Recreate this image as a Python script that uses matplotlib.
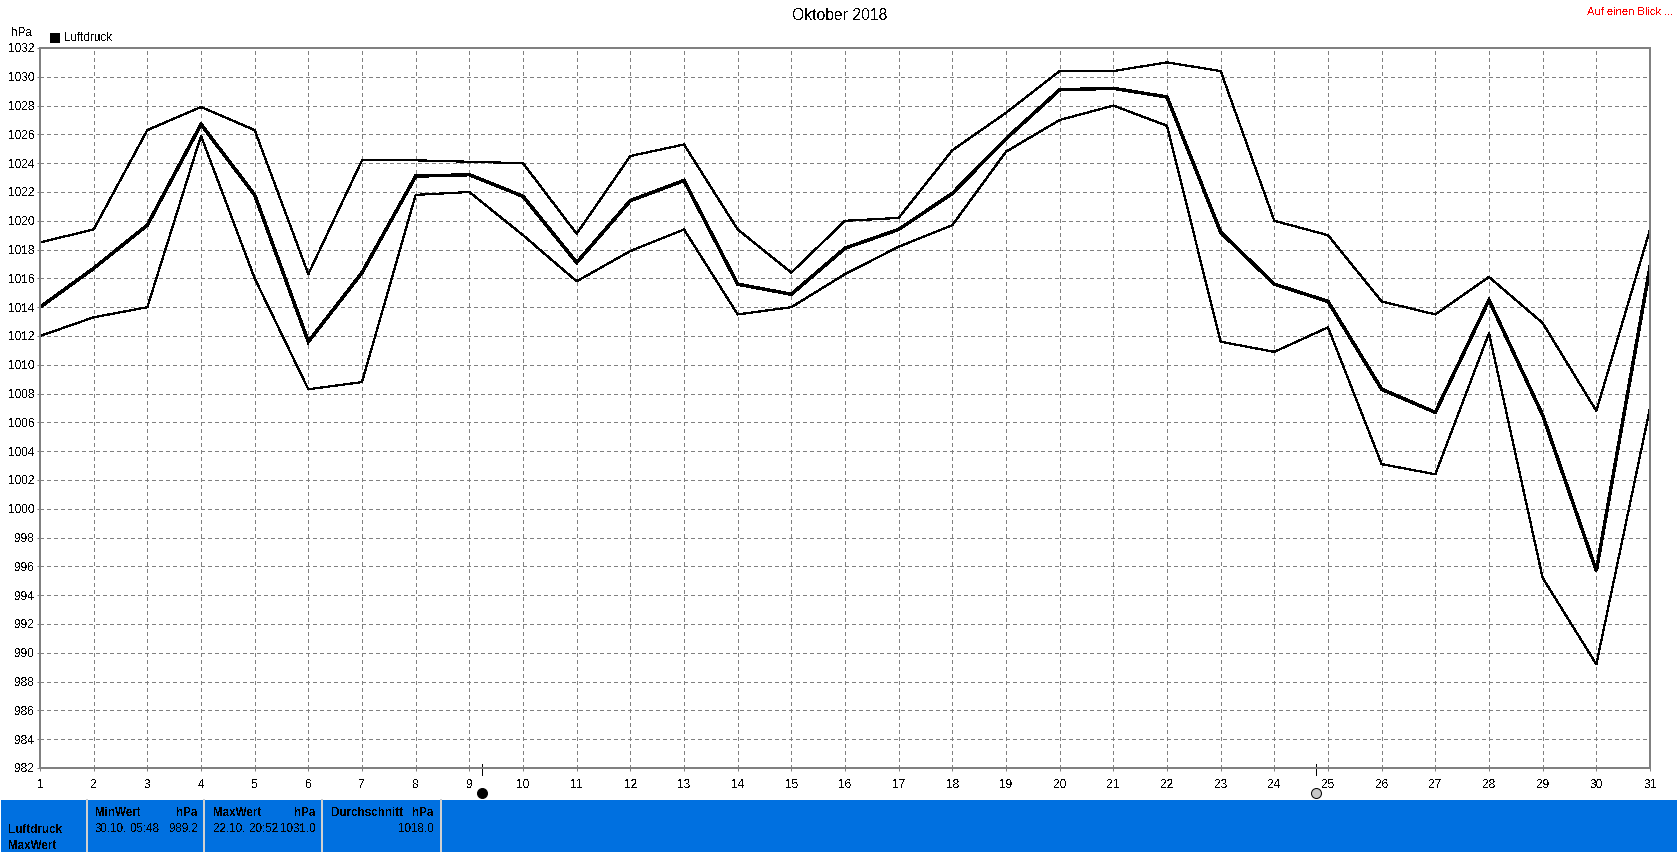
import numpy as np
from matplotlib import pyplot as plt
from matplotlib.patches import Rectangle

days = list(range(1, 32))
mean_vals = [1014.0, 1016.7, 1019.7, 1026.7, 1021.8, 1011.6, 1016.4, 1023.1, 1023.2, 1021.7, 1017.1,
             1021.4, 1022.8, 1015.6, 1014.9, 1018.1, 1019.4, 1021.9, 1025.7, 1029.1, 1029.2, 1028.6,
             1019.2, 1015.6, 1014.4, 1008.3, 1006.7, 1014.5, 1006.5, 995.7, 1016.8]
max_vals = [1018.5, 1019.4, 1026.3, 1027.9, 1026.3, 1016.3, 1024.2, 1024.2, 1024.1, 1024.0, 1019.1,
            1024.5, 1025.3, 1019.4, 1016.4, 1020.0, 1020.2, 1024.9, 1027.5, 1030.4, 1030.4, 1031.0,
            1030.4, 1020.0, 1019.0, 1014.4, 1013.5, 1016.1, 1012.9, 1006.8, 1019.4]
min_vals = [1012.0, 1013.3, 1014.0, 1025.9, 1016.0, 1008.3, 1008.8, 1021.8, 1022.0, 1019.0, 1015.8,
            1017.9, 1019.4, 1013.5, 1014.0, 1016.3, 1018.2, 1019.7, 1024.8, 1027.0, 1028.0, 1026.6,
            1011.6, 1010.9, 1012.6, 1003.1, 1002.4, 1012.2, 995.2, 989.2, 1007.0]
y_ticks = list(range(982, 1033, 2))
new_moon = 9.23
full_moon = 24.78

W, H = 1677, 852
GREY = '#808080'
BLUE = '#0070E0'
px = 72 / 100.

plt.rcParams['font.family'] = ['Liberation Sans', 'DejaVu Sans']
plt.rcParams['font.size'] = 8.4
plt.rcParams['text.antialiased'] = False

fig = plt.figure(figsize=(W / 100., H / 100.), dpi=100, facecolor='white')

# Plot area, placed by pixels
x0, x1, y_top, y_bot = 40, 1650, 48, 768
ax = fig.add_axes([x0 / W, 1 - y_bot / H, (x1 - x0) / W, (y_bot - y_top) / H])
ax.set_xlim(1, 31)
ax.set_ylim(982, 1032)
ax.set_xticks(days)
ax.set_yticks(y_ticks)
ax.grid(True, color=GREY, linewidth=1 * px, linestyle=(0, (4, 4)), antialiased=False)
ax.set_axisbelow(True)
ax.tick_params(length=3 * px, width=1 * px, color=GREY, labelsize=8.6)
ax.tick_params(axis='x', pad=6)
ax.tick_params(axis='y', pad=2)
for spine in ax.spines.values():
    spine.set_color(GREY)
    spine.set_linewidth(2 * px)

for vals, lw in [(max_vals, 1.2), (min_vals, 1.2), (mean_vals, 2.4)]:
    ax.plot(days, vals, color='black', linewidth=lw * px, solid_joinstyle='miter', antialiased=False)

# Moon phases under the axis
trans = ax.get_xaxis_transform()
for xm, fc in [(new_moon, 'black'), (full_moon, '#c8c8c8')]:
    ax.plot([xm, xm], [-7 / 720., 4 / 720.], color='black', linewidth=1 * px, transform=trans,
            clip_on=False, antialiased=False)
    ax.plot([xm], [-25 / 720.], marker='o', markersize=10 * px, markerfacecolor=fc, markeredgecolor='black',
            markeredgewidth=1 * px, transform=trans, clip_on=False, zorder=5)

# Everything else in pixel coordinates
ov = fig.add_axes([0, 0, 1, 1])
ov.set_xlim(0, W)
ov.set_ylim(H, 0)
ov.axis('off')

ov.text(840, 15, 'Oktober 2018', ha='center', va='center', fontsize=11.3)
ov.text(1673, 12, 'Auf einen Blick ...', ha='right', va='center', color='red', fontsize=8)
ov.text(11, 33, 'hPa', ha='left', va='center')
ov.add_patch(Rectangle((50, 33), 10, 10, facecolor='black', edgecolor='none'))
ov.text(64, 38, 'Luftdruck', ha='left', va='center')

# Summary panel
ov.add_patch(Rectangle((1, 800), W - 1, 52, facecolor=BLUE, edgecolor='none'))
for xs in [87.5, 204.5, 322.5, 441]:
    ov.plot([xs, xs], [800, 852], color='#d0d0d0', linewidth=1.5 * px, antialiased=False)

ov.text(8, 830, 'Luftdruck', fontweight='bold', ha='left', va='center')
ov.text(8, 846, 'MaxWert', fontweight='bold', ha='left', va='center')
ov.text(95, 813, 'MinWert', fontweight='bold', ha='left', va='center')
ov.text(198, 813, 'hPa', fontweight='bold', ha='right', va='center')
ov.text(95, 829, '30.10.', ha='left', va='center')
ov.text(131, 829, '05:48', ha='left', va='center')
ov.text(198, 829, '989.2', ha='right', va='center')
ov.text(213, 813, 'MaxWert', fontweight='bold', ha='left', va='center')
ov.text(316, 813, 'hPa', fontweight='bold', ha='right', va='center')
ov.text(213, 829, '22.10.', ha='left', va='center')
ov.text(249, 829, '20:52', ha='left', va='center')
ov.text(316, 829, '1031.0', ha='right', va='center')
ov.text(331, 813, 'Durchschnitt', fontweight='bold', ha='left', va='center')
ov.text(434, 813, 'hPa', fontweight='bold', ha='right', va='center')
ov.text(434, 829, '1018.0', ha='right', va='center')

fig.savefig('out.png', dpi=100, facecolor='white')
